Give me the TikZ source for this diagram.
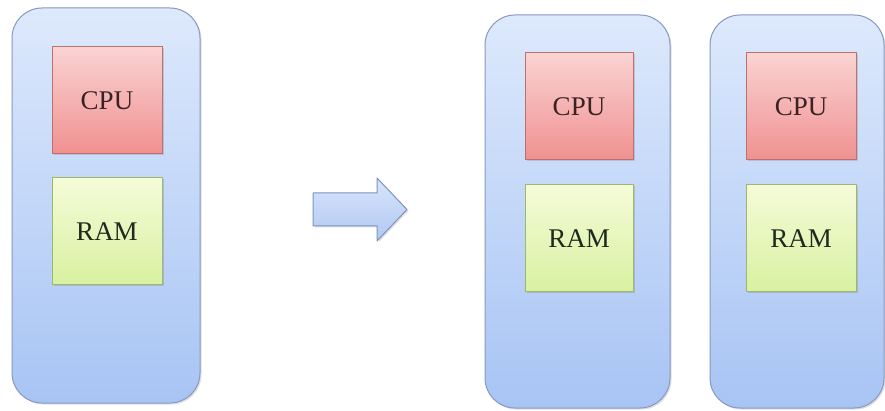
\documentclass[tikz,border=0pt]{standalone}
\usepackage{fontspec}
\setmainfont{Liberation Serif}
\usetikzlibrary{shadows}
\definecolor{srvtop}{HTML}{DDE9FC}
\definecolor{srvbot}{HTML}{A8C4F4}
\definecolor{srvline}{HTML}{8799C0}
\definecolor{cputop}{HTML}{FAD3D3}
\definecolor{cpubot}{HTML}{F09090}
\definecolor{cpuline}{HTML}{C0706C}
\definecolor{cputext}{HTML}{3A2222}
\definecolor{ramtop}{HTML}{F5FBD8}
\definecolor{rambot}{HTML}{D8F1A0}
\definecolor{ramline}{HTML}{9DB86A}
\definecolor{ramtext}{HTML}{1F2A1F}
\definecolor{arrtop}{HTML}{D8E5FB}
\definecolor{arrbot}{HTML}{B0C8F2}
\definecolor{arrline}{HTML}{7E93C2}
\tikzset{
  server/.style={draw=srvline, line width=1pt, rounded corners=30pt,
    top color=srvtop, bottom color=srvbot, inner sep=0pt,
    drop shadow={shadow xshift=1.5pt, shadow yshift=-1.5pt, opacity=0.25}},
  cpubox/.style={draw=cpuline, line width=1pt, top color=cputop, bottom color=cpubot,
    inner sep=0pt, minimum height=107pt, font=\fontsize{27}{30}\selectfont,
    text=cputext,
    drop shadow={shadow xshift=1.5pt, shadow yshift=-1.5pt, opacity=0.3}},
  rambox/.style={draw=ramline, line width=1pt, top color=ramtop, bottom color=rambot,
    inner sep=0pt, minimum height=107pt, font=\fontsize{27}{30}\selectfont,
    text=ramtext,
    drop shadow={shadow xshift=1.5pt, shadow yshift=-1.5pt, opacity=0.3}},
  blockarrow/.style={draw=arrline, line width=1pt, line join=round,
    top color=arrtop, bottom color=arrbot,
    drop shadow={shadow xshift=1.5pt, shadow yshift=-1.5pt, opacity=0.25}}
}
\begin{document}
\begin{tikzpicture}[x=1pt,y=-1pt]
  \useasboundingbox[fill=white] (0,0) rectangle (885,411);

  % the single machine
  \node[server, minimum width=188pt, minimum height=395pt] (s0) at (106,205.5) {};
  \node[cpubox, minimum width=110pt] (c0) at (107,100.5) {CPU};
  \node[rambox, minimum width=110pt] (r0) at (107,231.5) {RAM};

  % block arrow: one machine becomes two
  \path[blockarrow] (313,193) -- (377,193) -- (377,178) -- (407,209.5)
    -- (377,241) -- (377,226) -- (313,226) -- cycle;

  % the two machines
  \node[server, minimum width=185pt, minimum height=393pt] (s1) at (577.5,211.5) {};
  \node[cpubox, minimum width=108pt] (c1) at (579,106.5) {CPU};
  \node[rambox, minimum width=108pt] (r1) at (579,238.5) {RAM};

  \node[server, minimum width=174pt, minimum height=393pt] (s2) at (797,211.5) {};
  \node[cpubox, minimum width=110pt] (c2) at (801,106.5) {CPU};
  \node[rambox, minimum width=110pt] (r2) at (801,238.5) {RAM};
\end{tikzpicture}
\end{document}
